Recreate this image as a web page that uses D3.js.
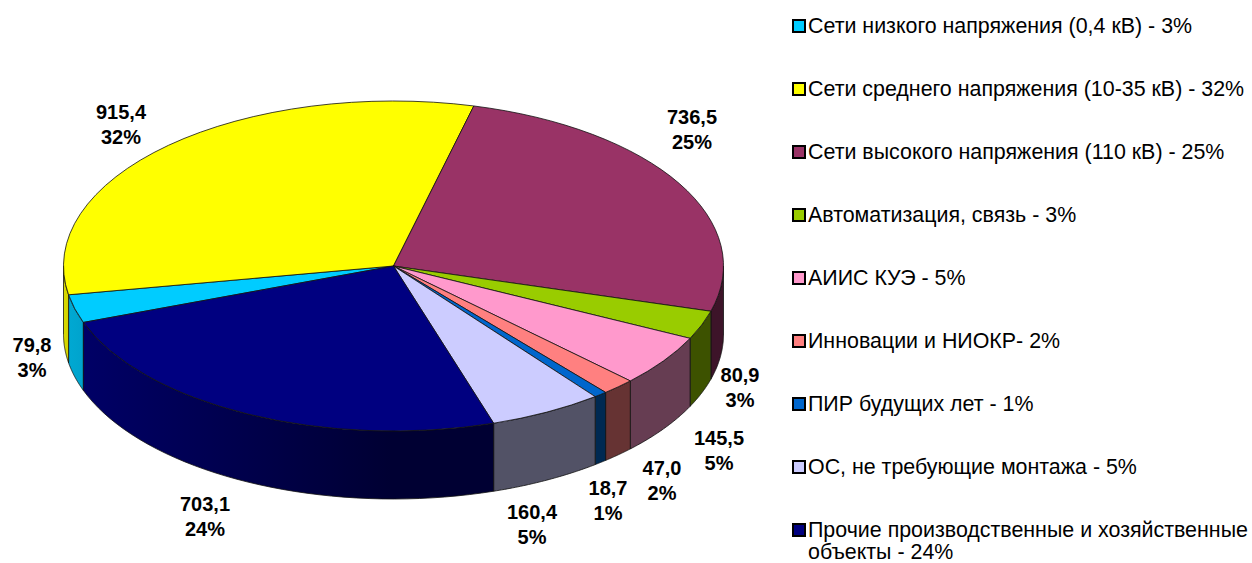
<!DOCTYPE html>
<html>
<head>
<meta charset="utf-8">
<script src="https://cdnjs.cloudflare.com/ajax/libs/d3/7.8.5/d3.min.js"></script>
<style>
html, body { margin: 0; padding: 0; background: #fff; }
text { font-family: "Liberation Sans", Arial, sans-serif; fill: #000; }
</style>
</head>
<body>
<div id="chart"></div>
<script>
const values = [79.8, 915.4, 736.5, 80.9, 145.5, 47.0, 18.7, 160.4, 703.1];
const valueLabels = ['79,8', '915,4', '736,5', '80,9', '145,5', '47,0', '18,7', '160,4', '703,1'];
const percents = ['3%', '32%', '25%', '3%', '5%', '2%', '1%', '5%', '24%'];
const categories = [
    'Сети низкого напряжения (0,4 кВ) - 3%',
    'Сети среднего напряжения (10-35 кВ) - 32%',
    'Сети высокого напряжения (110 кВ) - 25%',
    'Автоматизация, связь - 3%',
    'АИИС КУЭ - 5%',
    'Инновации и НИОКР- 2%',
    'ПИР будущих лет - 1%',
    'ОС, не требующие монтажа - 5%',
    'Прочие производственные и хозяйственные|объекты - 24%'
];
const colors = ['#00ccff', '#ffff00', '#993366', '#99cc00', '#ff99cc', '#ff8080', '#0066cc', '#ccccff', '#000080'];

// where the data labels sit, by hand like in the original
const labelX = [32, 121, 692, 740, 719, 662, 608, 532, 205];
const labelY = [345, 112, 117, 375, 438, 468, 488, 512, 504];

const width = 1252;
const height = 563;
const cx = 393.5, cy = 266, rx = 330, ry = 165, depth = 68;
const rad = d => d * Math.PI / 180;

const svg = d3.select('#chart')
    .append('svg')
    .attr('width', width)
    .attr('height', height)
    .style('display', 'block');

const defs = svg.append('defs');

const color = d3.scaleOrdinal().domain(categories).range(colors);

const pie = d3.pie()
    .sort(null)
    .startAngle(rad(250))
    .endAngle(rad(610));
const slices = pie(values);

const arc = d3.arc().innerRadius(0).outerRadius(rx);

const px = a => cx + rx * Math.sin(a);
const py = a => cy - ry * Math.cos(a);

// side gets lighter towards the left
const shade = d3.scaleLinear()
    .domain([90, 185, 250, 270])
    .range([0.4, 0.4, 0.8, 0.85])
    .clamp(true);

const line = d3.line();

function wallParts(d) {
    const parts = [];
    [[rad(90), rad(270)], [rad(450), rad(630)]].forEach(r => {
        const a0 = Math.max(d.startAngle, r[0]);
        const a1 = Math.min(d.endAngle, r[1]);
        if (a1 > a0) parts.push([a0, a1]);
    });
    return parts;
}

const walls = svg.append('g');
slices.forEach((d, i) => {
    wallParts(d).forEach((p, j) => {
        const id = 'side' + i + '-' + j;
        const base = d3.color(colors[i]);
        const grad = defs.append('linearGradient')
            .attr('id', id)
            .attr('gradientUnits', 'userSpaceOnUse')
            .attr('x1', px(p[0])).attr('x2', px(p[1]))
            .attr('y1', 0).attr('y2', 0);
        const stops = d3.range(0, 1.01, 0.25);
        stops.forEach(t => {
            const a = p[0] + (p[1] - p[0]) * t;
            const k = shade((a * 180 / Math.PI) % 360);
            grad.append('stop')
                .attr('offset', t)
                .attr('stop-color', d3.rgb(base.r * k, base.g * k, base.b * k));
        });
        const n = 40;
        const pts = d3.range(n + 1).map(s => p[0] + (p[1] - p[0]) * s / n);
        const top = pts.map(a => [px(a), py(a)]);
        const bottom = pts.slice().reverse().map(a => [px(a), py(a) + depth]);
        walls.append('path')
            .attr('d', line(top.concat(bottom)) + 'Z')
            .attr('fill', 'url(#' + id + ')')
            .attr('stroke', '#111')
            .attr('stroke-width', 0.8)
            .attr('stroke-linejoin', 'round');
    });
});

svg.append('g')
    .attr('transform', `translate(${cx},${cy}) scale(1,${ry / rx})`)
    .selectAll('path')
    .data(slices)
    .join('path')
    .attr('d', arc)
    .attr('fill', (d, i) => color(categories[i]))
    .attr('stroke', '#111')
    .attr('stroke-width', 0.8)
    .attr('vector-effect', 'non-scaling-stroke')
    .attr('stroke-linejoin', 'round');

// data labels
const labels = svg.append('g')
    .attr('font-size', 20)
    .attr('font-weight', 'bold')
    .attr('text-anchor', 'middle');
values.forEach((v, i) => {
    const t = labels.append('text').attr('x', labelX[i]).attr('y', labelY[i] + 7);
    t.append('tspan').attr('x', labelX[i]).text(valueLabels[i]);
    t.append('tspan').attr('x', labelX[i]).attr('dy', 24.5).text(percents[i]);
});

// legend
const legendY = d3.scalePoint().domain(categories).range([26, 530]);
const legend = svg.append('g')
    .selectAll('g')
    .data(categories)
    .join('g')
    .attr('transform', d => `translate(793,${legendY(d)})`);

legend.append('rect')
    .attr('x', 0).attr('y', -6)
    .attr('width', 12).attr('height', 12)
    .attr('fill', d => color(d))
    .attr('stroke', '#000')
    .attr('stroke-width', 2);

legend.append('text')
    .attr('font-size', 21.4)
    .attr('y', 7)
    .each(function(d) {
        d.split('|').forEach((s, i) => {
            d3.select(this).append('tspan')
                .attr('x', 15)
                .attr('dy', i ? 21.5 : 0)
                .text(s);
        });
    });
</script>
</body>
</html>
